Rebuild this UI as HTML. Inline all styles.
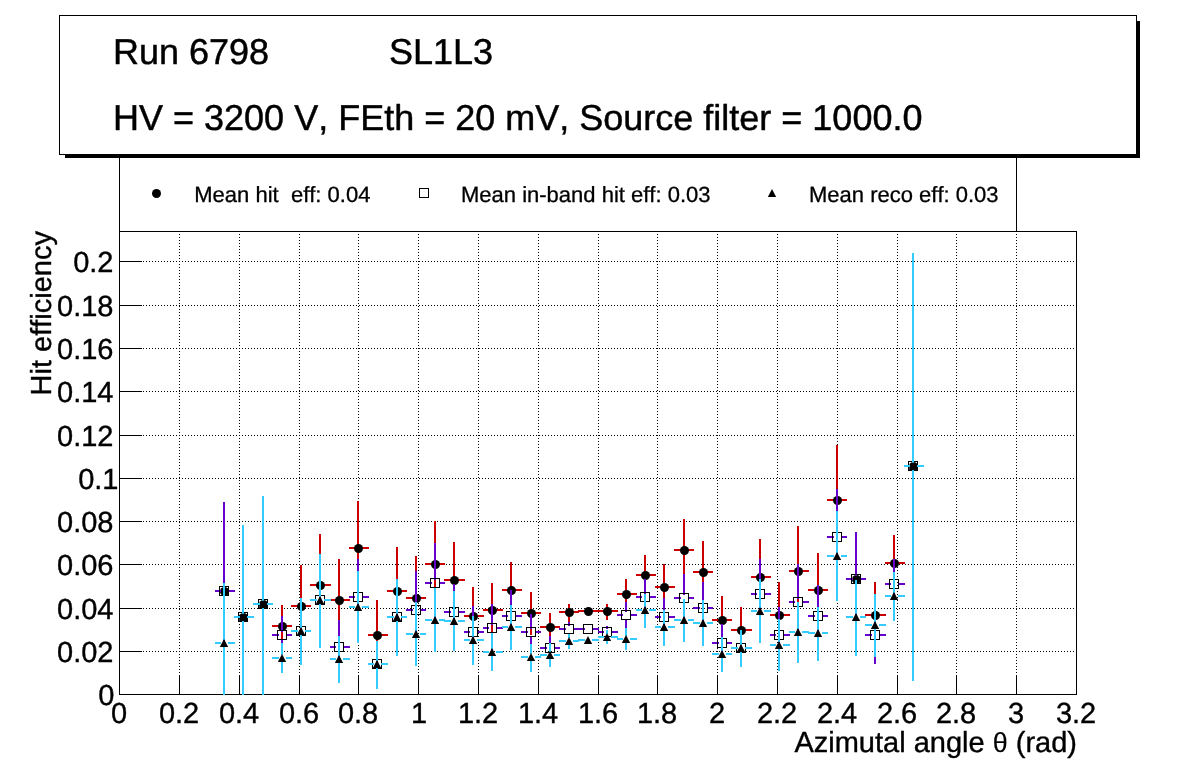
<!DOCTYPE html>
<html lang="en"><head><meta charset="utf-8"><title>Hit efficiency - Run 6798 SL1L3</title>
<style>html,body{margin:0;padding:0;background:#fff;overflow:hidden}svg{display:block}text{font-family:'Liberation Sans', sans-serif;fill:#000;font-kerning:none;text-rendering:geometricPrecision}</style>
</head><body>
<svg width="1196" height="772" viewBox="0 0 1196 772">
<rect width="1196" height="772" fill="#fff"/>
<g shape-rendering="crispEdges">
<rect x="119" y="231" width="958" height="1" fill="#000"/>
<rect x="119" y="694" width="958" height="1" fill="#000"/>
<rect x="119" y="231" width="1" height="464" fill="#000"/>
<rect x="1076" y="231" width="1" height="464" fill="#000"/>
<g stroke="#000" stroke-width="1" stroke-dasharray="1 2">
<line x1="119" y1="651.5" x2="1075" y2="651.5"/>
<line x1="119" y1="608.5" x2="1075" y2="608.5"/>
<line x1="119" y1="564.5" x2="1075" y2="564.5"/>
<line x1="119" y1="521.5" x2="1075" y2="521.5"/>
<line x1="119" y1="478.5" x2="1075" y2="478.5"/>
<line x1="119" y1="435.5" x2="1075" y2="435.5"/>
<line x1="119" y1="391.5" x2="1075" y2="391.5"/>
<line x1="119" y1="348.5" x2="1075" y2="348.5"/>
<line x1="119" y1="305.5" x2="1075" y2="305.5"/>
<line x1="119" y1="261.5" x2="1075" y2="261.5"/>
<line x1="179.5" y1="231" x2="179.5" y2="675"/>
<line x1="239.5" y1="231" x2="239.5" y2="675"/>
<line x1="299.5" y1="231" x2="299.5" y2="675"/>
<line x1="358.5" y1="231" x2="358.5" y2="675"/>
<line x1="418.5" y1="231" x2="418.5" y2="675"/>
<line x1="478.5" y1="231" x2="478.5" y2="675"/>
<line x1="538.5" y1="231" x2="538.5" y2="675"/>
<line x1="598.5" y1="231" x2="598.5" y2="675"/>
<line x1="657.5" y1="231" x2="657.5" y2="675"/>
<line x1="717.5" y1="231" x2="717.5" y2="675"/>
<line x1="777.5" y1="231" x2="777.5" y2="675"/>
<line x1="837.5" y1="231" x2="837.5" y2="675"/>
<line x1="897.5" y1="231" x2="897.5" y2="675"/>
<line x1="956.5" y1="231" x2="956.5" y2="675"/>
<line x1="1016.5" y1="231" x2="1016.5" y2="675"/>
</g>
<rect x="119" y="651" width="23" height="1" fill="#000"/>
<rect x="119" y="608" width="23" height="1" fill="#000"/>
<rect x="119" y="564" width="23" height="1" fill="#000"/>
<rect x="119" y="521" width="23" height="1" fill="#000"/>
<rect x="119" y="478" width="23" height="1" fill="#000"/>
<rect x="119" y="435" width="23" height="1" fill="#000"/>
<rect x="119" y="391" width="23" height="1" fill="#000"/>
<rect x="119" y="348" width="23" height="1" fill="#000"/>
<rect x="119" y="305" width="23" height="1" fill="#000"/>
<rect x="119" y="261" width="23" height="1" fill="#000"/>
<rect x="179" y="675" width="1" height="19" fill="#000"/>
<rect x="239" y="675" width="1" height="19" fill="#000"/>
<rect x="299" y="675" width="1" height="19" fill="#000"/>
<rect x="358" y="675" width="1" height="19" fill="#000"/>
<rect x="418" y="675" width="1" height="19" fill="#000"/>
<rect x="478" y="675" width="1" height="19" fill="#000"/>
<rect x="538" y="675" width="1" height="19" fill="#000"/>
<rect x="598" y="675" width="1" height="19" fill="#000"/>
<rect x="657" y="675" width="1" height="19" fill="#000"/>
<rect x="717" y="675" width="1" height="19" fill="#000"/>
<rect x="777" y="675" width="1" height="19" fill="#000"/>
<rect x="837" y="675" width="1" height="19" fill="#000"/>
<rect x="897" y="675" width="1" height="19" fill="#000"/>
<rect x="956" y="675" width="1" height="19" fill="#000"/>
<rect x="1016" y="675" width="1" height="19" fill="#000"/>
</g>
<clipPath id="fr"><rect x="120" y="232" width="956" height="463"/></clipPath>
<g clip-path="url(#fr)">
<g shape-rendering="crispEdges">
<rect x="215" y="590" width="6" height="2" fill="#cc0000"/><rect x="228" y="590" width="7" height="2" fill="#cc0000"/><rect x="223" y="502" width="2" height="86" fill="#cc0000"/><rect x="223" y="595" width="2" height="86" fill="#cc0000"/>
<rect x="234" y="616" width="6" height="2" fill="#cc0000"/><rect x="247" y="616" width="7" height="2" fill="#cc0000"/><rect x="242" y="525" width="2" height="89" fill="#cc0000"/><rect x="242" y="621" width="2" height="89" fill="#cc0000"/>
<rect x="253" y="603" width="7" height="2" fill="#cc0000"/><rect x="267" y="603" width="6" height="2" fill="#cc0000"/><rect x="262" y="496" width="2" height="105" fill="#cc0000"/><rect x="262" y="608" width="2" height="105" fill="#cc0000"/>
<rect x="272" y="625" width="7" height="2" fill="#cc0000"/><rect x="286" y="625" width="6" height="2" fill="#cc0000"/><rect x="281" y="605" width="2" height="18" fill="#cc0000"/><rect x="281" y="630" width="2" height="18" fill="#cc0000"/>
<rect x="291" y="605" width="7" height="2" fill="#cc0000"/><rect x="305" y="605" width="6" height="2" fill="#cc0000"/><rect x="300" y="565" width="2" height="38" fill="#cc0000"/><rect x="300" y="610" width="2" height="38" fill="#cc0000"/>
<rect x="310" y="584" width="7" height="2" fill="#cc0000"/><rect x="324" y="584" width="7" height="2" fill="#cc0000"/><rect x="319" y="534" width="2" height="48" fill="#cc0000"/><rect x="319" y="589" width="2" height="48" fill="#cc0000"/>
<rect x="330" y="599" width="6" height="2" fill="#cc0000"/><rect x="343" y="599" width="7" height="2" fill="#cc0000"/><rect x="338" y="559" width="2" height="38" fill="#cc0000"/><rect x="338" y="604" width="2" height="38" fill="#cc0000"/>
<rect x="349" y="547" width="6" height="2" fill="#cc0000"/><rect x="362" y="547" width="7" height="2" fill="#cc0000"/><rect x="357" y="501" width="2" height="44" fill="#cc0000"/><rect x="357" y="552" width="2" height="44" fill="#cc0000"/>
<rect x="368" y="634" width="6" height="2" fill="#cc0000"/><rect x="381" y="634" width="7" height="2" fill="#cc0000"/><rect x="376" y="600" width="2" height="32" fill="#cc0000"/><rect x="376" y="639" width="2" height="32" fill="#cc0000"/>
<rect x="387" y="590" width="7" height="2" fill="#cc0000"/><rect x="401" y="590" width="6" height="2" fill="#cc0000"/><rect x="396" y="547" width="2" height="41" fill="#cc0000"/><rect x="396" y="595" width="2" height="41" fill="#cc0000"/>
<rect x="406" y="597" width="7" height="2" fill="#cc0000"/><rect x="420" y="597" width="6" height="2" fill="#cc0000"/><rect x="415" y="556" width="2" height="39" fill="#cc0000"/><rect x="415" y="602" width="2" height="39" fill="#cc0000"/>
<rect x="425" y="563" width="7" height="2" fill="#cc0000"/><rect x="439" y="563" width="6" height="2" fill="#cc0000"/><rect x="434" y="521" width="2" height="40" fill="#cc0000"/><rect x="434" y="568" width="2" height="40" fill="#cc0000"/>
<rect x="444" y="579" width="7" height="2" fill="#cc0000"/><rect x="458" y="579" width="7" height="2" fill="#cc0000"/><rect x="453" y="542" width="2" height="35" fill="#cc0000"/><rect x="453" y="584" width="2" height="35" fill="#cc0000"/>
<rect x="464" y="615" width="6" height="2" fill="#cc0000"/><rect x="477" y="615" width="7" height="2" fill="#cc0000"/><rect x="472" y="587" width="2" height="26" fill="#cc0000"/><rect x="472" y="620" width="2" height="26" fill="#cc0000"/>
<rect x="483" y="609" width="6" height="2" fill="#cc0000"/><rect x="496" y="609" width="7" height="2" fill="#cc0000"/><rect x="491" y="583" width="2" height="24" fill="#cc0000"/><rect x="491" y="614" width="2" height="24" fill="#cc0000"/>
<rect x="502" y="589" width="6" height="2" fill="#cc0000"/><rect x="515" y="589" width="7" height="2" fill="#cc0000"/><rect x="510" y="562" width="2" height="25" fill="#cc0000"/><rect x="510" y="594" width="2" height="25" fill="#cc0000"/>
<rect x="521" y="612" width="7" height="2" fill="#cc0000"/><rect x="535" y="612" width="6" height="2" fill="#cc0000"/><rect x="530" y="592" width="2" height="18" fill="#cc0000"/><rect x="530" y="617" width="2" height="18" fill="#cc0000"/>
<rect x="540" y="626" width="7" height="2" fill="#cc0000"/><rect x="554" y="626" width="6" height="2" fill="#cc0000"/><rect x="549" y="613" width="2" height="11" fill="#cc0000"/><rect x="549" y="631" width="2" height="11" fill="#cc0000"/>
<rect x="559" y="611" width="7" height="2" fill="#cc0000"/><rect x="573" y="611" width="6" height="2" fill="#cc0000"/><rect x="568" y="604" width="2" height="5" fill="#cc0000"/><rect x="568" y="616" width="2" height="7" fill="#cc0000"/>
<rect x="578" y="610" width="7" height="2" fill="#cc0000"/><rect x="592" y="610" width="7" height="2" fill="#cc0000"/>
<rect x="598" y="610" width="6" height="2" fill="#cc0000"/><rect x="611" y="610" width="7" height="2" fill="#cc0000"/><rect x="606" y="604" width="2" height="4" fill="#cc0000"/><rect x="606" y="615" width="2" height="5" fill="#cc0000"/>
<rect x="617" y="593" width="6" height="2" fill="#cc0000"/><rect x="630" y="593" width="7" height="2" fill="#cc0000"/><rect x="625" y="579" width="2" height="12" fill="#cc0000"/><rect x="625" y="598" width="2" height="12" fill="#cc0000"/>
<rect x="636" y="574" width="6" height="2" fill="#cc0000"/><rect x="649" y="574" width="7" height="2" fill="#cc0000"/><rect x="644" y="555" width="2" height="17" fill="#cc0000"/><rect x="644" y="579" width="2" height="17" fill="#cc0000"/>
<rect x="655" y="586" width="6" height="2" fill="#cc0000"/><rect x="668" y="586" width="7" height="2" fill="#cc0000"/><rect x="663" y="564" width="2" height="20" fill="#cc0000"/><rect x="663" y="591" width="2" height="20" fill="#cc0000"/>
<rect x="674" y="549" width="7" height="2" fill="#cc0000"/><rect x="688" y="549" width="6" height="2" fill="#cc0000"/><rect x="683" y="519" width="2" height="28" fill="#cc0000"/><rect x="683" y="554" width="2" height="28" fill="#cc0000"/>
<rect x="693" y="571" width="7" height="2" fill="#cc0000"/><rect x="707" y="571" width="6" height="2" fill="#cc0000"/><rect x="702" y="541" width="2" height="28" fill="#cc0000"/><rect x="702" y="576" width="2" height="28" fill="#cc0000"/>
<rect x="712" y="619" width="7" height="2" fill="#cc0000"/><rect x="726" y="619" width="6" height="2" fill="#cc0000"/><rect x="721" y="596" width="2" height="21" fill="#cc0000"/><rect x="721" y="624" width="2" height="21" fill="#cc0000"/>
<rect x="731" y="629" width="7" height="2" fill="#cc0000"/><rect x="745" y="629" width="7" height="2" fill="#cc0000"/><rect x="740" y="607" width="2" height="20" fill="#cc0000"/><rect x="740" y="634" width="2" height="20" fill="#cc0000"/>
<rect x="751" y="576" width="6" height="2" fill="#cc0000"/><rect x="764" y="576" width="7" height="2" fill="#cc0000"/><rect x="759" y="539" width="2" height="35" fill="#cc0000"/><rect x="759" y="581" width="2" height="35" fill="#cc0000"/>
<rect x="770" y="614" width="6" height="2" fill="#cc0000"/><rect x="783" y="614" width="7" height="2" fill="#cc0000"/><rect x="778" y="582" width="2" height="30" fill="#cc0000"/><rect x="778" y="619" width="2" height="30" fill="#cc0000"/>
<rect x="789" y="570" width="6" height="2" fill="#cc0000"/><rect x="802" y="570" width="7" height="2" fill="#cc0000"/><rect x="797" y="526" width="2" height="42" fill="#cc0000"/><rect x="797" y="575" width="2" height="42" fill="#cc0000"/>
<rect x="808" y="589" width="7" height="2" fill="#cc0000"/><rect x="822" y="589" width="6" height="2" fill="#cc0000"/><rect x="817" y="553" width="2" height="34" fill="#cc0000"/><rect x="817" y="594" width="2" height="34" fill="#cc0000"/>
<rect x="827" y="499" width="7" height="2" fill="#cc0000"/><rect x="841" y="499" width="6" height="2" fill="#cc0000"/><rect x="836" y="445" width="2" height="52" fill="#cc0000"/><rect x="836" y="504" width="2" height="52" fill="#cc0000"/>
<rect x="846" y="578" width="7" height="2" fill="#cc0000"/><rect x="860" y="578" width="6" height="2" fill="#cc0000"/><rect x="855" y="532" width="2" height="44" fill="#cc0000"/><rect x="855" y="583" width="2" height="44" fill="#cc0000"/>
<rect x="865" y="614" width="7" height="2" fill="#cc0000"/><rect x="879" y="614" width="7" height="2" fill="#cc0000"/><rect x="874" y="582" width="2" height="30" fill="#cc0000"/><rect x="874" y="619" width="2" height="30" fill="#cc0000"/>
<rect x="885" y="562" width="6" height="2" fill="#cc0000"/><rect x="898" y="562" width="7" height="2" fill="#cc0000"/><rect x="893" y="535" width="2" height="25" fill="#cc0000"/><rect x="893" y="567" width="2" height="25" fill="#cc0000"/>
<rect x="904" y="465" width="6" height="2" fill="#cc0000"/><rect x="917" y="465" width="7" height="2" fill="#cc0000"/><rect x="912" y="253" width="2" height="210" fill="#cc0000"/><rect x="912" y="470" width="2" height="210" fill="#cc0000"/>
</g>
<g fill="#000">
<circle cx="224.5" cy="591.5" r="4.5"/>
<circle cx="243.5" cy="617.5" r="4.5"/>
<circle cx="263.5" cy="604.5" r="4.5"/>
<circle cx="282.5" cy="626.5" r="4.5"/>
<circle cx="301.5" cy="606.5" r="4.5"/>
<circle cx="320.5" cy="585.5" r="4.5"/>
<circle cx="339.5" cy="600.5" r="4.5"/>
<circle cx="358.5" cy="548.5" r="4.5"/>
<circle cx="377.5" cy="635.5" r="4.5"/>
<circle cx="397.5" cy="591.5" r="4.5"/>
<circle cx="416.5" cy="598.5" r="4.5"/>
<circle cx="435.5" cy="564.5" r="4.5"/>
<circle cx="454.5" cy="580.5" r="4.5"/>
<circle cx="473.5" cy="616.5" r="4.5"/>
<circle cx="492.5" cy="610.5" r="4.5"/>
<circle cx="511.5" cy="590.5" r="4.5"/>
<circle cx="531.5" cy="613.5" r="4.5"/>
<circle cx="550.5" cy="627.5" r="4.5"/>
<circle cx="569.5" cy="612.5" r="4.5"/>
<circle cx="588.5" cy="611.5" r="4.5"/>
<circle cx="607.5" cy="611.5" r="4.5"/>
<circle cx="626.5" cy="594.5" r="4.5"/>
<circle cx="645.5" cy="575.5" r="4.5"/>
<circle cx="664.5" cy="587.5" r="4.5"/>
<circle cx="684.5" cy="550.5" r="4.5"/>
<circle cx="703.5" cy="572.5" r="4.5"/>
<circle cx="722.5" cy="620.5" r="4.5"/>
<circle cx="741.5" cy="630.5" r="4.5"/>
<circle cx="760.5" cy="577.5" r="4.5"/>
<circle cx="779.5" cy="615.5" r="4.5"/>
<circle cx="798.5" cy="571.5" r="4.5"/>
<circle cx="818.5" cy="590.5" r="4.5"/>
<circle cx="837.5" cy="500.5" r="4.5"/>
<circle cx="856.5" cy="579.5" r="4.5"/>
<circle cx="875.5" cy="615.5" r="4.5"/>
<circle cx="894.5" cy="563.5" r="4.5"/>
<circle cx="913.5" cy="466.5" r="4.5"/>
</g>
<g shape-rendering="crispEdges">
<rect x="215" y="590" width="6" height="2" fill="#6600cc"/><rect x="228" y="590" width="7" height="2" fill="#6600cc"/><rect x="223" y="502" width="2" height="86" fill="#6600cc"/><rect x="223" y="595" width="2" height="86" fill="#6600cc"/>
<rect x="234" y="616" width="6" height="2" fill="#6600cc"/><rect x="247" y="616" width="7" height="2" fill="#6600cc"/><rect x="242" y="525" width="2" height="89" fill="#6600cc"/><rect x="242" y="621" width="2" height="89" fill="#6600cc"/>
<rect x="253" y="603" width="7" height="2" fill="#6600cc"/><rect x="267" y="603" width="6" height="2" fill="#6600cc"/><rect x="262" y="496" width="2" height="105" fill="#6600cc"/><rect x="262" y="608" width="2" height="105" fill="#6600cc"/>
<rect x="272" y="634" width="7" height="2" fill="#6600cc"/><rect x="286" y="634" width="6" height="2" fill="#6600cc"/><rect x="281" y="616" width="2" height="16" fill="#6600cc"/><rect x="281" y="639" width="2" height="16" fill="#6600cc"/>
<rect x="291" y="630" width="7" height="2" fill="#6600cc"/><rect x="305" y="630" width="6" height="2" fill="#6600cc"/><rect x="300" y="598" width="2" height="30" fill="#6600cc"/><rect x="300" y="635" width="2" height="30" fill="#6600cc"/>
<rect x="310" y="599" width="7" height="2" fill="#6600cc"/><rect x="324" y="599" width="7" height="2" fill="#6600cc"/><rect x="319" y="554" width="2" height="43" fill="#6600cc"/><rect x="319" y="604" width="2" height="43" fill="#6600cc"/>
<rect x="330" y="646" width="6" height="2" fill="#6600cc"/><rect x="343" y="646" width="7" height="2" fill="#6600cc"/><rect x="338" y="620" width="2" height="24" fill="#6600cc"/><rect x="338" y="651" width="2" height="24" fill="#6600cc"/>
<rect x="349" y="596" width="6" height="2" fill="#6600cc"/><rect x="362" y="596" width="7" height="2" fill="#6600cc"/><rect x="357" y="559" width="2" height="35" fill="#6600cc"/><rect x="357" y="601" width="2" height="35" fill="#6600cc"/>
<rect x="368" y="663" width="6" height="2" fill="#6600cc"/><rect x="381" y="663" width="7" height="2" fill="#6600cc"/><rect x="376" y="641" width="2" height="20" fill="#6600cc"/><rect x="376" y="668" width="2" height="20" fill="#6600cc"/>
<rect x="387" y="616" width="7" height="2" fill="#6600cc"/><rect x="401" y="616" width="6" height="2" fill="#6600cc"/><rect x="396" y="580" width="2" height="34" fill="#6600cc"/><rect x="396" y="621" width="2" height="34" fill="#6600cc"/>
<rect x="406" y="609" width="7" height="2" fill="#6600cc"/><rect x="420" y="609" width="6" height="2" fill="#6600cc"/><rect x="415" y="571" width="2" height="36" fill="#6600cc"/><rect x="415" y="614" width="2" height="36" fill="#6600cc"/>
<rect x="425" y="582" width="7" height="2" fill="#6600cc"/><rect x="439" y="582" width="6" height="2" fill="#6600cc"/><rect x="434" y="543" width="2" height="37" fill="#6600cc"/><rect x="434" y="587" width="2" height="37" fill="#6600cc"/>
<rect x="444" y="611" width="7" height="2" fill="#6600cc"/><rect x="458" y="611" width="7" height="2" fill="#6600cc"/><rect x="453" y="584" width="2" height="25" fill="#6600cc"/><rect x="453" y="616" width="2" height="25" fill="#6600cc"/>
<rect x="464" y="631" width="6" height="2" fill="#6600cc"/><rect x="477" y="631" width="7" height="2" fill="#6600cc"/><rect x="472" y="606" width="2" height="23" fill="#6600cc"/><rect x="472" y="636" width="2" height="23" fill="#6600cc"/>
<rect x="483" y="627" width="6" height="2" fill="#6600cc"/><rect x="496" y="627" width="7" height="2" fill="#6600cc"/><rect x="491" y="604" width="2" height="21" fill="#6600cc"/><rect x="491" y="632" width="2" height="21" fill="#6600cc"/>
<rect x="502" y="615" width="6" height="2" fill="#6600cc"/><rect x="515" y="615" width="7" height="2" fill="#6600cc"/><rect x="510" y="590" width="2" height="23" fill="#6600cc"/><rect x="510" y="620" width="2" height="23" fill="#6600cc"/>
<rect x="521" y="631" width="7" height="2" fill="#6600cc"/><rect x="535" y="631" width="6" height="2" fill="#6600cc"/><rect x="530" y="614" width="2" height="15" fill="#6600cc"/><rect x="530" y="636" width="2" height="15" fill="#6600cc"/>
<rect x="540" y="647" width="7" height="2" fill="#6600cc"/><rect x="554" y="647" width="6" height="2" fill="#6600cc"/><rect x="549" y="636" width="2" height="9" fill="#6600cc"/><rect x="549" y="652" width="2" height="9" fill="#6600cc"/>
<rect x="559" y="628" width="7" height="2" fill="#6600cc"/><rect x="573" y="628" width="6" height="2" fill="#6600cc"/><rect x="568" y="622" width="2" height="4" fill="#6600cc"/><rect x="568" y="633" width="2" height="4" fill="#6600cc"/>
<rect x="578" y="628" width="7" height="2" fill="#6600cc"/><rect x="592" y="628" width="7" height="2" fill="#6600cc"/>
<rect x="598" y="631" width="6" height="2" fill="#6600cc"/><rect x="611" y="631" width="7" height="2" fill="#6600cc"/><rect x="606" y="626" width="2" height="3" fill="#6600cc"/><rect x="606" y="636" width="2" height="3" fill="#6600cc"/>
<rect x="617" y="614" width="6" height="2" fill="#6600cc"/><rect x="630" y="614" width="7" height="2" fill="#6600cc"/><rect x="625" y="602" width="2" height="10" fill="#6600cc"/><rect x="625" y="619" width="2" height="10" fill="#6600cc"/>
<rect x="636" y="596" width="6" height="2" fill="#6600cc"/><rect x="649" y="596" width="7" height="2" fill="#6600cc"/><rect x="644" y="579" width="2" height="15" fill="#6600cc"/><rect x="644" y="601" width="2" height="15" fill="#6600cc"/>
<rect x="655" y="616" width="6" height="2" fill="#6600cc"/><rect x="668" y="616" width="7" height="2" fill="#6600cc"/><rect x="663" y="598" width="2" height="16" fill="#6600cc"/><rect x="663" y="621" width="2" height="16" fill="#6600cc"/>
<rect x="674" y="597" width="7" height="2" fill="#6600cc"/><rect x="688" y="597" width="6" height="2" fill="#6600cc"/><rect x="683" y="574" width="2" height="21" fill="#6600cc"/><rect x="683" y="602" width="2" height="21" fill="#6600cc"/>
<rect x="693" y="607" width="7" height="2" fill="#6600cc"/><rect x="707" y="607" width="6" height="2" fill="#6600cc"/><rect x="702" y="582" width="2" height="23" fill="#6600cc"/><rect x="702" y="612" width="2" height="23" fill="#6600cc"/>
<rect x="712" y="642" width="7" height="2" fill="#6600cc"/><rect x="726" y="642" width="6" height="2" fill="#6600cc"/><rect x="721" y="624" width="2" height="16" fill="#6600cc"/><rect x="721" y="647" width="2" height="16" fill="#6600cc"/>
<rect x="731" y="647" width="7" height="2" fill="#6600cc"/><rect x="745" y="647" width="7" height="2" fill="#6600cc"/><rect x="740" y="630" width="2" height="15" fill="#6600cc"/><rect x="740" y="652" width="2" height="15" fill="#6600cc"/>
<rect x="751" y="593" width="6" height="2" fill="#6600cc"/><rect x="764" y="593" width="7" height="2" fill="#6600cc"/><rect x="759" y="559" width="2" height="32" fill="#6600cc"/><rect x="759" y="598" width="2" height="32" fill="#6600cc"/>
<rect x="770" y="634" width="6" height="2" fill="#6600cc"/><rect x="783" y="634" width="7" height="2" fill="#6600cc"/><rect x="778" y="607" width="2" height="25" fill="#6600cc"/><rect x="778" y="639" width="2" height="25" fill="#6600cc"/>
<rect x="789" y="601" width="6" height="2" fill="#6600cc"/><rect x="802" y="601" width="7" height="2" fill="#6600cc"/><rect x="797" y="564" width="2" height="35" fill="#6600cc"/><rect x="797" y="606" width="2" height="35" fill="#6600cc"/>
<rect x="808" y="615" width="7" height="2" fill="#6600cc"/><rect x="822" y="615" width="6" height="2" fill="#6600cc"/><rect x="817" y="585" width="2" height="28" fill="#6600cc"/><rect x="817" y="620" width="2" height="28" fill="#6600cc"/>
<rect x="827" y="536" width="7" height="2" fill="#6600cc"/><rect x="841" y="536" width="6" height="2" fill="#6600cc"/><rect x="836" y="489" width="2" height="45" fill="#6600cc"/><rect x="836" y="541" width="2" height="45" fill="#6600cc"/>
<rect x="846" y="578" width="7" height="2" fill="#6600cc"/><rect x="860" y="578" width="6" height="2" fill="#6600cc"/><rect x="855" y="532" width="2" height="44" fill="#6600cc"/><rect x="855" y="583" width="2" height="44" fill="#6600cc"/>
<rect x="865" y="634" width="7" height="2" fill="#6600cc"/><rect x="879" y="634" width="7" height="2" fill="#6600cc"/><rect x="874" y="606" width="2" height="26" fill="#6600cc"/><rect x="874" y="639" width="2" height="25" fill="#6600cc"/>
<rect x="885" y="583" width="6" height="2" fill="#6600cc"/><rect x="898" y="583" width="7" height="2" fill="#6600cc"/><rect x="893" y="559" width="2" height="22" fill="#6600cc"/><rect x="893" y="588" width="2" height="22" fill="#6600cc"/>
<rect x="904" y="465" width="6" height="2" fill="#6600cc"/><rect x="917" y="465" width="7" height="2" fill="#6600cc"/><rect x="912" y="253" width="2" height="210" fill="#6600cc"/><rect x="912" y="470" width="2" height="210" fill="#6600cc"/>
</g>
<g fill="none" stroke="#000" stroke-width="1" shape-rendering="crispEdges">
<rect x="219.5" y="586.5" width="9" height="9"/>
<rect x="238.5" y="612.5" width="9" height="9"/>
<rect x="258.5" y="599.5" width="9" height="9"/>
<rect x="277.5" y="630.5" width="9" height="9"/>
<rect x="296.5" y="626.5" width="9" height="9"/>
<rect x="315.5" y="595.5" width="9" height="9"/>
<rect x="334.5" y="642.5" width="9" height="9"/>
<rect x="353.5" y="592.5" width="9" height="9"/>
<rect x="372.5" y="659.5" width="9" height="9"/>
<rect x="392.5" y="612.5" width="9" height="9"/>
<rect x="411.5" y="605.5" width="9" height="9"/>
<rect x="430.5" y="578.5" width="9" height="9"/>
<rect x="449.5" y="607.5" width="9" height="9"/>
<rect x="468.5" y="627.5" width="9" height="9"/>
<rect x="487.5" y="623.5" width="9" height="9"/>
<rect x="506.5" y="611.5" width="9" height="9"/>
<rect x="526.5" y="627.5" width="9" height="9"/>
<rect x="545.5" y="643.5" width="9" height="9"/>
<rect x="564.5" y="624.5" width="9" height="9"/>
<rect x="583.5" y="624.5" width="9" height="9"/>
<rect x="602.5" y="627.5" width="9" height="9"/>
<rect x="621.5" y="610.5" width="9" height="9"/>
<rect x="640.5" y="592.5" width="9" height="9"/>
<rect x="659.5" y="612.5" width="9" height="9"/>
<rect x="679.5" y="593.5" width="9" height="9"/>
<rect x="698.5" y="603.5" width="9" height="9"/>
<rect x="717.5" y="638.5" width="9" height="9"/>
<rect x="736.5" y="643.5" width="9" height="9"/>
<rect x="755.5" y="589.5" width="9" height="9"/>
<rect x="774.5" y="630.5" width="9" height="9"/>
<rect x="793.5" y="597.5" width="9" height="9"/>
<rect x="813.5" y="611.5" width="9" height="9"/>
<rect x="832.5" y="532.5" width="9" height="9"/>
<rect x="851.5" y="574.5" width="9" height="9"/>
<rect x="870.5" y="630.5" width="9" height="9"/>
<rect x="889.5" y="579.5" width="9" height="9"/>
<rect x="908.5" y="461.5" width="9" height="9"/>
</g>
<g shape-rendering="crispEdges">
<rect x="215" y="642" width="6" height="2" fill="#33ccff"/><rect x="228" y="642" width="7" height="2" fill="#33ccff"/><rect x="223" y="583" width="2" height="57" fill="#33ccff"/><rect x="223" y="647" width="2" height="57" fill="#33ccff"/>
<rect x="234" y="616" width="6" height="2" fill="#33ccff"/><rect x="247" y="616" width="7" height="2" fill="#33ccff"/><rect x="242" y="525" width="2" height="89" fill="#33ccff"/><rect x="242" y="621" width="2" height="88" fill="#33ccff"/>
<rect x="253" y="603" width="7" height="2" fill="#33ccff"/><rect x="267" y="603" width="6" height="2" fill="#33ccff"/><rect x="262" y="496" width="2" height="105" fill="#33ccff"/><rect x="262" y="608" width="2" height="104" fill="#33ccff"/>
<rect x="272" y="657" width="7" height="2" fill="#33ccff"/><rect x="286" y="657" width="6" height="2" fill="#33ccff"/><rect x="281" y="643" width="2" height="12" fill="#33ccff"/><rect x="281" y="662" width="2" height="11" fill="#33ccff"/>
<rect x="291" y="630" width="7" height="2" fill="#33ccff"/><rect x="305" y="630" width="6" height="2" fill="#33ccff"/><rect x="300" y="598" width="2" height="30" fill="#33ccff"/><rect x="300" y="635" width="2" height="30" fill="#33ccff"/>
<rect x="310" y="599" width="7" height="2" fill="#33ccff"/><rect x="324" y="599" width="7" height="2" fill="#33ccff"/><rect x="319" y="554" width="2" height="43" fill="#33ccff"/><rect x="319" y="604" width="2" height="44" fill="#33ccff"/>
<rect x="330" y="658" width="6" height="2" fill="#33ccff"/><rect x="343" y="658" width="7" height="2" fill="#33ccff"/><rect x="338" y="636" width="2" height="20" fill="#33ccff"/><rect x="338" y="663" width="2" height="20" fill="#33ccff"/>
<rect x="349" y="606" width="6" height="2" fill="#33ccff"/><rect x="362" y="606" width="7" height="2" fill="#33ccff"/><rect x="357" y="571" width="2" height="33" fill="#33ccff"/><rect x="357" y="611" width="2" height="32" fill="#33ccff"/>
<rect x="368" y="663" width="6" height="2" fill="#33ccff"/><rect x="381" y="663" width="7" height="2" fill="#33ccff"/><rect x="376" y="641" width="2" height="20" fill="#33ccff"/><rect x="376" y="668" width="2" height="21" fill="#33ccff"/>
<rect x="387" y="616" width="7" height="2" fill="#33ccff"/><rect x="401" y="616" width="6" height="2" fill="#33ccff"/><rect x="396" y="579" width="2" height="35" fill="#33ccff"/><rect x="396" y="621" width="2" height="35" fill="#33ccff"/>
<rect x="406" y="633" width="7" height="2" fill="#33ccff"/><rect x="420" y="633" width="6" height="2" fill="#33ccff"/><rect x="415" y="602" width="2" height="29" fill="#33ccff"/><rect x="415" y="638" width="2" height="28" fill="#33ccff"/>
<rect x="425" y="619" width="7" height="2" fill="#33ccff"/><rect x="439" y="619" width="6" height="2" fill="#33ccff"/><rect x="434" y="588" width="2" height="29" fill="#33ccff"/><rect x="434" y="624" width="2" height="28" fill="#33ccff"/>
<rect x="444" y="620" width="7" height="2" fill="#33ccff"/><rect x="458" y="620" width="7" height="2" fill="#33ccff"/><rect x="453" y="591" width="2" height="27" fill="#33ccff"/><rect x="453" y="625" width="2" height="26" fill="#33ccff"/>
<rect x="464" y="639" width="6" height="2" fill="#33ccff"/><rect x="477" y="639" width="7" height="2" fill="#33ccff"/><rect x="472" y="616" width="2" height="21" fill="#33ccff"/><rect x="472" y="644" width="2" height="21" fill="#33ccff"/>
<rect x="483" y="651" width="6" height="2" fill="#33ccff"/><rect x="496" y="651" width="7" height="2" fill="#33ccff"/><rect x="491" y="633" width="2" height="16" fill="#33ccff"/><rect x="491" y="656" width="2" height="15" fill="#33ccff"/>
<rect x="502" y="626" width="6" height="2" fill="#33ccff"/><rect x="515" y="626" width="7" height="2" fill="#33ccff"/><rect x="510" y="605" width="2" height="19" fill="#33ccff"/><rect x="510" y="631" width="2" height="19" fill="#33ccff"/>
<rect x="521" y="656" width="7" height="2" fill="#33ccff"/><rect x="535" y="656" width="6" height="2" fill="#33ccff"/><rect x="530" y="644" width="2" height="10" fill="#33ccff"/><rect x="530" y="661" width="2" height="11" fill="#33ccff"/>
<rect x="540" y="654" width="7" height="2" fill="#33ccff"/><rect x="554" y="654" width="6" height="2" fill="#33ccff"/><rect x="549" y="643" width="2" height="9" fill="#33ccff"/><rect x="549" y="659" width="2" height="8" fill="#33ccff"/>
<rect x="559" y="640" width="7" height="2" fill="#33ccff"/><rect x="573" y="640" width="6" height="2" fill="#33ccff"/><rect x="568" y="634" width="2" height="4" fill="#33ccff"/><rect x="568" y="645" width="2" height="4" fill="#33ccff"/>
<rect x="578" y="639" width="7" height="2" fill="#33ccff"/><rect x="592" y="639" width="7" height="2" fill="#33ccff"/>
<rect x="598" y="636" width="6" height="2" fill="#33ccff"/><rect x="611" y="636" width="7" height="2" fill="#33ccff"/><rect x="606" y="630" width="2" height="4" fill="#33ccff"/><rect x="606" y="641" width="2" height="3" fill="#33ccff"/>
<rect x="617" y="638" width="6" height="2" fill="#33ccff"/><rect x="630" y="638" width="7" height="2" fill="#33ccff"/><rect x="625" y="628" width="2" height="8" fill="#33ccff"/><rect x="625" y="643" width="2" height="7" fill="#33ccff"/>
<rect x="636" y="609" width="6" height="2" fill="#33ccff"/><rect x="649" y="609" width="7" height="2" fill="#33ccff"/><rect x="644" y="594" width="2" height="13" fill="#33ccff"/><rect x="644" y="614" width="2" height="14" fill="#33ccff"/>
<rect x="655" y="626" width="6" height="2" fill="#33ccff"/><rect x="668" y="626" width="7" height="2" fill="#33ccff"/><rect x="663" y="610" width="2" height="14" fill="#33ccff"/><rect x="663" y="631" width="2" height="15" fill="#33ccff"/>
<rect x="674" y="619" width="7" height="2" fill="#33ccff"/><rect x="688" y="619" width="6" height="2" fill="#33ccff"/><rect x="683" y="599" width="2" height="18" fill="#33ccff"/><rect x="683" y="624" width="2" height="18" fill="#33ccff"/>
<rect x="693" y="622" width="7" height="2" fill="#33ccff"/><rect x="707" y="622" width="6" height="2" fill="#33ccff"/><rect x="702" y="600" width="2" height="20" fill="#33ccff"/><rect x="702" y="627" width="2" height="19" fill="#33ccff"/>
<rect x="712" y="653" width="7" height="2" fill="#33ccff"/><rect x="726" y="653" width="6" height="2" fill="#33ccff"/><rect x="721" y="637" width="2" height="14" fill="#33ccff"/><rect x="721" y="658" width="2" height="14" fill="#33ccff"/>
<rect x="731" y="647" width="7" height="2" fill="#33ccff"/><rect x="745" y="647" width="7" height="2" fill="#33ccff"/><rect x="740" y="630" width="2" height="15" fill="#33ccff"/><rect x="740" y="652" width="2" height="15" fill="#33ccff"/>
<rect x="751" y="610" width="6" height="2" fill="#33ccff"/><rect x="764" y="610" width="7" height="2" fill="#33ccff"/><rect x="759" y="579" width="2" height="29" fill="#33ccff"/><rect x="759" y="615" width="2" height="28" fill="#33ccff"/>
<rect x="770" y="644" width="6" height="2" fill="#33ccff"/><rect x="783" y="644" width="7" height="2" fill="#33ccff"/><rect x="778" y="619" width="2" height="23" fill="#33ccff"/><rect x="778" y="649" width="2" height="22" fill="#33ccff"/>
<rect x="789" y="631" width="6" height="2" fill="#33ccff"/><rect x="802" y="631" width="7" height="2" fill="#33ccff"/><rect x="797" y="602" width="2" height="27" fill="#33ccff"/><rect x="797" y="636" width="2" height="27" fill="#33ccff"/>
<rect x="808" y="632" width="7" height="2" fill="#33ccff"/><rect x="822" y="632" width="6" height="2" fill="#33ccff"/><rect x="817" y="607" width="2" height="23" fill="#33ccff"/><rect x="817" y="637" width="2" height="24" fill="#33ccff"/>
<rect x="827" y="555" width="7" height="2" fill="#33ccff"/><rect x="841" y="555" width="6" height="2" fill="#33ccff"/><rect x="836" y="511" width="2" height="42" fill="#33ccff"/><rect x="836" y="560" width="2" height="41" fill="#33ccff"/>
<rect x="846" y="616" width="7" height="2" fill="#33ccff"/><rect x="860" y="616" width="6" height="2" fill="#33ccff"/><rect x="855" y="580" width="2" height="34" fill="#33ccff"/><rect x="855" y="621" width="2" height="35" fill="#33ccff"/>
<rect x="865" y="624" width="7" height="2" fill="#33ccff"/><rect x="879" y="624" width="7" height="2" fill="#33ccff"/><rect x="874" y="594" width="2" height="28" fill="#33ccff"/><rect x="874" y="629" width="2" height="28" fill="#33ccff"/>
<rect x="885" y="595" width="6" height="2" fill="#33ccff"/><rect x="898" y="595" width="7" height="2" fill="#33ccff"/><rect x="893" y="572" width="2" height="21" fill="#33ccff"/><rect x="893" y="600" width="2" height="21" fill="#33ccff"/>
<rect x="904" y="465" width="6" height="2" fill="#33ccff"/><rect x="917" y="465" width="7" height="2" fill="#33ccff"/><rect x="912" y="253" width="2" height="210" fill="#33ccff"/><rect x="912" y="470" width="2" height="211" fill="#33ccff"/>
</g>
<g fill="#000">
<path d="M224 638.9L228.15 647L219.85 647Z"/>
<path d="M243 612.9L247.15 621L238.85 621Z"/>
<path d="M263 599.9L267.15 608L258.85 608Z"/>
<path d="M282 653.9L286.15 662L277.85 662Z"/>
<path d="M301 626.9L305.15 635L296.85 635Z"/>
<path d="M320 595.9L324.15 604L315.85 604Z"/>
<path d="M339 654.9L343.15 663L334.85 663Z"/>
<path d="M358 602.9L362.15 611L353.85 611Z"/>
<path d="M377 659.9L381.15 668L372.85 668Z"/>
<path d="M397 612.9L401.15 621L392.85 621Z"/>
<path d="M416 629.9L420.15 638L411.85 638Z"/>
<path d="M435 615.9L439.15 624L430.85 624Z"/>
<path d="M454 616.9L458.15 625L449.85 625Z"/>
<path d="M473 635.9L477.15 644L468.85 644Z"/>
<path d="M492 647.9L496.15 656L487.85 656Z"/>
<path d="M511 622.9L515.15 631L506.85 631Z"/>
<path d="M531 652.9L535.15 661L526.85 661Z"/>
<path d="M550 650.9L554.15 659L545.85 659Z"/>
<path d="M569 636.9L573.15 645L564.85 645Z"/>
<path d="M588 635.9L592.15 644L583.85 644Z"/>
<path d="M607 632.9L611.15 641L602.85 641Z"/>
<path d="M626 634.9L630.15 643L621.85 643Z"/>
<path d="M645 605.9L649.15 614L640.85 614Z"/>
<path d="M664 622.9L668.15 631L659.85 631Z"/>
<path d="M684 615.9L688.15 624L679.85 624Z"/>
<path d="M703 618.9L707.15 627L698.85 627Z"/>
<path d="M722 649.9L726.15 658L717.85 658Z"/>
<path d="M741 643.9L745.15 652L736.85 652Z"/>
<path d="M760 606.9L764.15 615L755.85 615Z"/>
<path d="M779 640.9L783.15 649L774.85 649Z"/>
<path d="M798 627.9L802.15 636L793.85 636Z"/>
<path d="M818 628.9L822.15 637L813.85 637Z"/>
<path d="M837 551.9L841.15 560L832.85 560Z"/>
<path d="M856 612.9L860.15 621L851.85 621Z"/>
<path d="M875 620.9L879.15 629L870.85 629Z"/>
<path d="M894 591.9L898.15 600L889.85 600Z"/>
<path d="M913 461.9L917.15 470L908.85 470Z"/>
</g>
</g>
<g shape-rendering="crispEdges">
<rect x="119" y="150" width="1" height="82" fill="#000"/>
<rect x="1016" y="150" width="1" height="82" fill="#000"/>
</g>
<g fill="#000"><circle cx="156.5" cy="193.5" r="4.5"/><path d="M772 188.9L776.15 197L767.85 197Z"/></g>
<rect x="419.5" y="188.5" width="9" height="9" fill="none" stroke="#000" stroke-width="1" shape-rendering="crispEdges"/>
<g font-size="22" stroke="#000" stroke-width="0.3">
<text x="194.3" y="202" xml:space="preserve">Mean hit  eff: 0.04</text>
<text x="461" y="202">Mean in-band hit eff: 0.03</text>
<text x="809" y="202">Mean reco eff: 0.03</text>
</g>
<g shape-rendering="crispEdges">
<rect x="65" y="155" width="1075" height="3" fill="#000"/>
<rect x="1137" y="21" width="3" height="137" fill="#000"/>
<rect x="59" y="15" width="1078" height="140" fill="#000"/>
<rect x="60" y="16" width="1076" height="138" fill="#fff"/>
</g>
<g font-size="36" stroke="#000" stroke-width="0.45">
<text x="113" y="64">Run 6798</text>
<text x="389" y="64">SL1L3</text>
<text x="113" y="130">HV = 3200 V, FEth = 20 mV, Source filter = 1000.0</text>
</g>
<g font-size="29" stroke="#000" stroke-width="0.38">
<text x="114.3" y="704.8" text-anchor="end">0</text>
<text x="113.5" y="661.8" text-anchor="end">0.02</text>
<text x="113.5" y="618.8" text-anchor="end">0.04</text>
<text x="113.5" y="574.8" text-anchor="end">0.06</text>
<text x="113.5" y="531.8" text-anchor="end">0.08</text>
<text x="118.5" y="488.8" text-anchor="end">0.1</text>
<text x="113.5" y="445.8" text-anchor="end">0.12</text>
<text x="113.5" y="401.8" text-anchor="end">0.14</text>
<text x="113.5" y="358.8" text-anchor="end">0.16</text>
<text x="113.5" y="315.8" text-anchor="end">0.18</text>
<text x="113.5" y="271.8" text-anchor="end">0.2</text>
<text x="119.1" y="722.5" text-anchor="middle">0</text>
<text x="179.1" y="722.5" text-anchor="middle">0.2</text>
<text x="239.1" y="722.5" text-anchor="middle">0.4</text>
<text x="299.1" y="722.5" text-anchor="middle">0.6</text>
<text x="358.1" y="722.5" text-anchor="middle">0.8</text>
<text x="419.1" y="722.5" text-anchor="middle">1</text>
<text x="478.1" y="722.5" text-anchor="middle">1.2</text>
<text x="538.1" y="722.5" text-anchor="middle">1.4</text>
<text x="598.1" y="722.5" text-anchor="middle">1.6</text>
<text x="657.1" y="722.5" text-anchor="middle">1.8</text>
<text x="717.1" y="722.5" text-anchor="middle">2</text>
<text x="777.1" y="722.5" text-anchor="middle">2.2</text>
<text x="837.1" y="722.5" text-anchor="middle">2.4</text>
<text x="897.1" y="722.5" text-anchor="middle">2.6</text>
<text x="956.1" y="722.5" text-anchor="middle">2.8</text>
<text x="1016.1" y="722.5" text-anchor="middle">3</text>
<text x="1076.1" y="722.5" text-anchor="middle">3.2</text>
<text x="1077" y="751.5" text-anchor="end">Azimutal angle <tspan textLength="15" lengthAdjust="spacingAndGlyphs" font-size="27.5" stroke-width="0.1">θ</tspan> (rad)</text>
<text transform="translate(51 231) rotate(-90)" text-anchor="end">Hit efficiency</text>
</g>
</svg>
</body></html>
